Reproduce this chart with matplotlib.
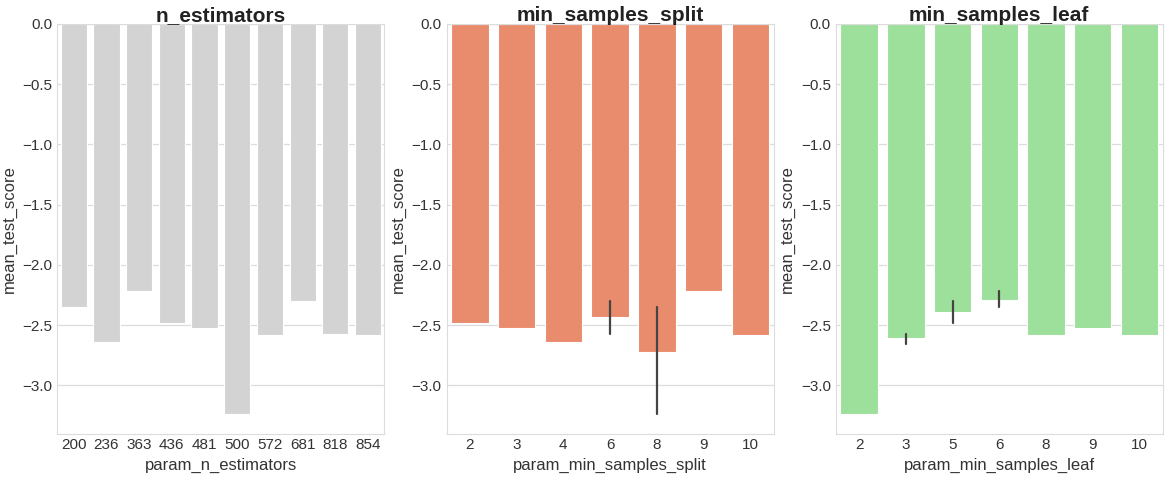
import numpy as np
import matplotlib.pyplot as plt
import seaborn as sns

# bar heights (mean_test_score)
n_est = ["200", "236", "363", "436", "481", "500", "572", "681", "818", "854"]
n_est_score = [-2.35, -2.64, -2.22, -2.48, -2.52, -3.24, -2.58, -2.30, -2.57, -2.58]

split = ["2", "3", "4", "6", "8", "9", "10"]
split_score = [-2.48, -2.52, -2.64, -2.435, -2.72, -2.22, -2.58]
split_lo = [np.nan, np.nan, np.nan, -2.57, -3.24, np.nan, np.nan]
split_hi = [np.nan, np.nan, np.nan, -2.30, -2.35, np.nan, np.nan]

leaf = ["2", "3", "5", "6", "8", "9", "10"]
leaf_score = [-3.24, -2.61, -2.39, -2.29, -2.58, -2.52, -2.58]
leaf_lo = [np.nan, -2.66, -2.48, -2.35, np.nan, np.nan, np.nan]
leaf_hi = [np.nan, -2.57, -2.30, -2.22, np.nan, np.nan, np.nan]

sns.set_style("whitegrid")
plt.rcParams["font.family"] = ["Liberation Sans", "DejaVu Sans"]

fig, axes = plt.subplots(1, 3, figsize=(11.71, 4.78), dpi=100)
fig.subplots_adjust(left=0.049, right=0.993, top=0.95, bottom=0.093, wspace=0.19)

panels = [
    ("n_estimators", "param_n_estimators", n_est, n_est_score, None, None, "#d3d3d3"),
    ("min_samples_split", "param_min_samples_split", split, split_score, split_lo, split_hi, "#e98b6d"),
    ("min_samples_leaf", "param_min_samples_leaf", leaf, leaf_score, leaf_lo, leaf_hi, "#9ce09b"),
]

for ax, (title, xlabel, cats, vals, lo, hi, color) in zip(axes, panels):
    x = np.arange(len(cats))
    ax.bar(x, vals, width=0.8, color=color, edgecolor="white", linewidth=0.8, zorder=2)
    if lo is not None:
        for xi, a, b in zip(x, lo, hi):
            if not np.isnan(a):
                ax.plot([xi, xi], [a, b], color="#444444", linewidth=1.6, zorder=3)
    ax.set_xticks(x)
    ax.set_xticklabels(cats)
    ax.set_xlim(-0.5, len(cats) - 0.5)
    ax.set_ylim(-3.4, 0)
    ax.set_yticks([0.0, -0.5, -1.0, -1.5, -2.0, -2.5, -3.0])
    ax.grid(axis="x", visible=False)
    ax.grid(axis="y", color="#dcdcdc", linewidth=0.9)
    ax.set_axisbelow(True)
    for s in ax.spines.values():
        s.set_color("#dcdcdc")
    ax.tick_params(labelsize=11, colors="#333333", length=0)
    ax.set_xlabel(xlabel, fontsize=12, color="#333333")
    ax.set_ylabel("mean_test_score", fontsize=12, color="#333333")
    ax.set_title(title, fontsize=15, fontweight="bold", color="#222222", pad=2)

fig.savefig("out.png", dpi=100)
